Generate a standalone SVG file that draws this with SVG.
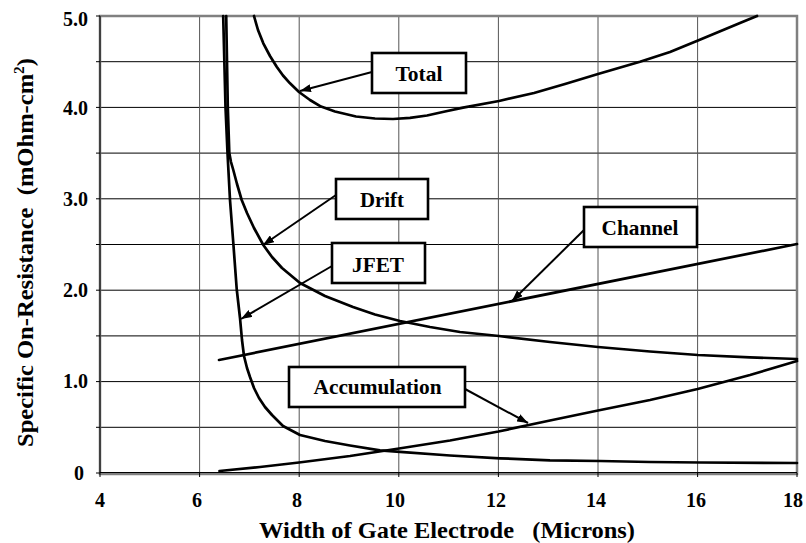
<svg xmlns="http://www.w3.org/2000/svg" width="806" height="543" viewBox="0 0 806 543">
<style>
text{font-family:"Liberation Serif",Tinos,"Times New Roman",Times,"DejaVu Serif","Noto Serif",serif;font-weight:700;fill:#000}
.tick{font-size:20px}
.title{font-size:24px}
.lbl{font-size:21px;text-anchor:middle}
.hg{stroke:#000;stroke-width:1}
.vg{stroke:#555;stroke-width:1}
.curve{fill:none;stroke:#000;stroke-width:2.7;stroke-linejoin:round;stroke-linecap:round}
.box{fill:#fff;stroke:#000;stroke-width:2.6}
.arrow{stroke:#000;stroke-width:2;fill:none;marker-end:url(#ah)}
</style>
<defs>
<marker id="ah" markerUnits="userSpaceOnUse" markerWidth="12" markerHeight="8" refX="11" refY="4" orient="auto">
<path d="M0,0 L11,4 L0,8 z" fill="#000"/>
</marker>
</defs>
<rect width="806" height="543" fill="#fff"/>
<g id="grid">
<line class="hg" x1="100" y1="427.3" x2="797" y2="427.3"/>
<line class="hg" x1="100" y1="381.6" x2="797" y2="381.6"/>
<line class="hg" x1="100" y1="335.9" x2="797" y2="335.9"/>
<line class="hg" x1="100" y1="290.2" x2="797" y2="290.2"/>
<line class="hg" x1="100" y1="244.5" x2="797" y2="244.5"/>
<line class="hg" x1="100" y1="198.8" x2="797" y2="198.8"/>
<line class="hg" x1="100" y1="153.1" x2="797" y2="153.1"/>
<line class="hg" x1="100" y1="107.4" x2="797" y2="107.4"/>
<line class="hg" x1="100" y1="61.7" x2="797" y2="61.7"/>
<line class="vg" x1="199.6" y1="16" x2="199.6" y2="473"/>
<line class="vg" x1="299.2" y1="16" x2="299.2" y2="473"/>
<line class="vg" x1="398.8" y1="16" x2="398.8" y2="473"/>
<line class="vg" x1="498.4" y1="16" x2="498.4" y2="473"/>
<line class="vg" x1="598" y1="16" x2="598" y2="473"/>
<line class="vg" x1="697.6" y1="16" x2="697.6" y2="473"/>
</g>
<g id="frame">
<rect x="100" y="16" width="697" height="458" fill="none" stroke="#808080" stroke-width="2.5"/>
<line x1="100" y1="16" x2="100" y2="473" stroke="#000" stroke-width="1"/>
<line x1="100" y1="472.5" x2="797" y2="472.5" stroke="#000" stroke-width="1"/>
<path d="M96,16H100M96,61.7H100M96,107.4H100M96,153.1H100M96,198.8H100M96,244.5H100M96,290.2H100M96,335.9H100M96,381.6H100M96,427.3H100M96,473H100" stroke="#000" stroke-width="1"/>
<path d="M100,473V477M199.6,473V477M299.2,473V477M398.8,473V477M498.4,473V477M598,473V477M697.6,473V477M797,473V477" stroke="#000" stroke-width="1"/>
</g>
<g id="y-labels" class="tick" text-anchor="end">
<text x="88" y="26">5.0</text>
<text x="88" y="115">4.0</text>
<text x="88" y="206">3.0</text>
<text x="88" y="297">2.0</text>
<text x="88" y="388">1.0</text>
<text x="84" y="480">0</text>
</g>
<g id="x-labels" class="tick" text-anchor="middle">
<text x="100" y="507">4</text>
<text x="197" y="507">6</text>
<text x="297" y="507">8</text>
<text x="395" y="507">10</text>
<text x="496" y="507">12</text>
<text x="596" y="507">14</text>
<text x="696" y="507">16</text>
<text x="793" y="507">18</text>
</g>
<text id="x-title" class="title" x="259" y="538" textLength="376" lengthAdjust="spacingAndGlyphs" xml:space="preserve">Width of Gate Electrode   (Microns)</text>
<text id="y-title" class="title" transform="translate(33,447) rotate(-90)" textLength="389" lengthAdjust="spacingAndGlyphs" xml:space="preserve">Specific On-Resistance  (mOhm-cm<tspan font-size="15" dy="-9">2</tspan><tspan dy="9">)</tspan></text>
<g id="curves">
<polyline id="curve-channel" class="curve" points="219,360 797,244"/>
<polyline id="curve-accumulation" class="curve" points="219.5,471 260,467 299,462.5 350,456 399,448.5 450,440.5 498.4,431.5 550,420.5 598,410.5 650,400 697.6,389 750,375 797,361"/>
<polyline id="curve-jfet" class="curve" points="223.2,16 225.5,107 227.5,153 230,200 233.3,243 236.7,289 240,318 242,340 244,356 247,368 250,377 254,388 259,398 265,407 272,415 283,426 300,435 325,441 350,445.5 380,450.3 400,451.8 450,455.5 500,458.3 550,460.3 600,461 650,462 700,462.5 797,463"/>
<polyline id="curve-drift" class="curve" points="226.2,16 227.8,107 229.3,153 231,162 233.3,170 237,184 241.7,200 247,213 254,228 263.3,245 272,257 282,268 300,283 325,296 353,307 375,314.5 400,321 430,327 460,332 499,336 550,342 598,347 650,351.5 698,355 750,357.3 797,359"/>
<polyline id="curve-total" class="curve" points="254,16 258,30 263.3,43.3 270,56 276.7,66.7 283,75.5 290,83.3 299,92 310,100 321,106.6 335,111.5 356,116.5 375,118.5 393,119 410,117.8 427,115.5 445,111.5 463,107.6 499,101 534,93 565,84 598,74 640,61.7 670,52 698,40.5 719,31.7 740,23 757,16"/>
</g>
<g id="connectors">
<line class="arrow" x1="372" y1="72" x2="300" y2="91"/>
<line class="arrow" x1="336" y1="195" x2="263" y2="245"/>
<line class="arrow" x1="332" y1="266" x2="241" y2="319"/>
<line class="arrow" x1="584" y1="230" x2="512" y2="301"/>
<line class="arrow" x1="465" y1="389" x2="528" y2="423"/>
</g>
<g id="node-total">
<rect class="box" x="372" y="53" width="94" height="40"/>
<text class="lbl" x="419" y="80.5" textLength="47" lengthAdjust="spacingAndGlyphs">Total</text>
</g>
<g id="node-drift">
<rect class="box" x="336" y="179" width="92" height="40"/>
<text class="lbl" x="382" y="207" textLength="44" lengthAdjust="spacingAndGlyphs">Drift</text>
</g>
<g id="node-jfet">
<rect class="box" x="332" y="243" width="93" height="40"/>
<text class="lbl" x="378" y="271.5" textLength="52" lengthAdjust="spacingAndGlyphs">JFET</text>
</g>
<g id="node-channel">
<rect class="box" x="584" y="207" width="113" height="40"/>
<text class="lbl" x="640" y="235" textLength="77" lengthAdjust="spacingAndGlyphs">Channel</text>
</g>
<g id="node-accumulation">
<rect class="box" x="289" y="367" width="176" height="40"/>
<text class="lbl" x="377.5" y="394" textLength="128" lengthAdjust="spacingAndGlyphs">Accumulation</text>
</g>
</svg>
